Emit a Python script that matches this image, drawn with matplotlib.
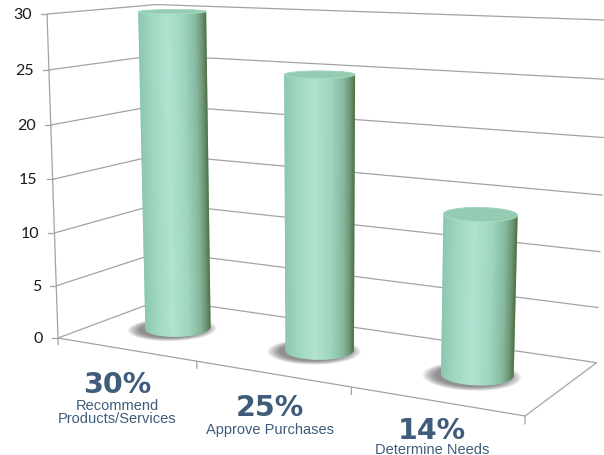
import numpy as np
import matplotlib
matplotlib.use("Agg")
import matplotlib.pyplot as plt
from matplotlib.patches import Polygon
from matplotlib.colors import LinearSegmentedColormap

# ---------------- data ----------------
categories = ["Recommend\nProducts/Services", "Approve Purchases", "Determine Needs"]
values = [30, 25, 14]
pct_labels = ["30%", "25%", "14%"]
y_ticks = [0, 5, 10, 15, 20, 25, 30]

# ---------------- camera / layout ----------------
FOCAL = 1540.0
PRINCIPAL = (322.0, 214.0)
YAW = np.radians(29.2)
PITCH = np.radians(-11.0)
TRANS = np.array([-24.6, 11.65, 143.5])
BOX_W = 46.5      # floor width (world units)
BOX_D = 16.8      # floor depth
CYL_R = 3.1       # cylinder radius
Z_MAX = max(y_ticks)
# label placement (pixel offsets from the projected front-edge centre)
LABEL_DX = [-8, -2, -4]
PCT_DY = [21, 19, 15]
NAME_DY = [49, 48, 41]

ct, st = np.cos(YAW), np.sin(YAW)
cp, sp = np.cos(PITCH), np.sin(PITCH)
BASE = np.array([[1, 0, 0], [0, 0, -1], [0, 1, 0]], float)
RYAW = np.array([[ct, 0, st], [0, 1, 0], [-st, 0, ct]])
RPITCH = np.array([[1, 0, 0], [0, cp, sp], [0, -sp, cp]])
M = RPITCH @ RYAW @ BASE


def proj(X, Y, Z):
    X, Y, Z = np.broadcast_arrays(np.asarray(X, float), np.asarray(Y, float), np.asarray(Z, float))
    P = np.stack([X.ravel(), Y.ravel(), Z.ravel()])
    c = M @ P + TRANS[:, None]
    u = PRINCIPAL[0] + FOCAL * c[0] / c[2]
    v = PRINCIPAL[1] + FOCAL * c[1] / c[2]
    return u.reshape(X.shape), v.reshape(X.shape)


def convex_hull(pts):
    pts = sorted(map(tuple, pts))
    def cross(o, a, b):
        return (a[0] - o[0]) * (b[1] - o[1]) - (a[1] - o[1]) * (b[0] - o[0])
    lower, upper = [], []
    for p in pts:
        while len(lower) >= 2 and cross(lower[-2], lower[-1], p) <= 0:
            lower.pop()
        lower.append(p)
    for p in reversed(pts):
        while len(upper) >= 2 and cross(upper[-2], upper[-1], p) <= 0:
            upper.pop()
        upper.append(p)
    return np.array(lower[:-1] + upper[:-1])


fig = plt.figure(figsize=(6.04, 4.56), dpi=100)
ax = fig.add_axes([0, 0, 1, 1])

GRID = "#a3a3a3"
GLW = 0.9


def seg(p0, p1, **kw):
    u, v = proj([p0[0], p1[0]], [p0[1], p1[1]], [p0[2], p1[2]])
    ax.plot(u, v, color=GRID, lw=GLW, solid_capstyle="butt", zorder=1, **kw)


# walls gridlines
for t in y_ticks:
    seg((0, 0, t), (0, BOX_D, t))
    seg((0, BOX_D, t), (BOX_W, BOX_D, t))
# floor edges
seg((0, 0, 0), (BOX_W, 0, 0))
seg((BOX_W, 0, 0), (BOX_W, BOX_D, 0))
# vertical axis
seg((0, 0, 0), (0, 0, Z_MAX))
# value ticks and labels
for t in y_ticks:
    u, v = proj(0, 0, t)
    ax.plot([u - 6, u], [v, v], color=GRID, lw=GLW, zorder=1)
    ax.text(u - 15, v, str(t), ha="right", va="center", fontsize=11.5,
            family="Lato", color="#1a1a1a")
# category ticks
n = len(values)
for k in range(n + 1):
    X = k * BOX_W / n
    seg((X, 0, 0), (X, 0, -0.7))

# ---------------- cylinders ----------------
body_cmap = LinearSegmentedColormap.from_list("cyl", [
    (0.00, "#8cc8ae"),
    (0.18, "#9fd7c0"),
    (0.42, "#b2e3d0"),
    (0.66, "#9fd6bf"),
    (0.84, "#86ba9f"),
    (0.94, "#6b9473"),
    (1.00, "#506f42"),
])


def line_x(y, pa, pb):
    t = (y - pa[1]) / (pb[1] - pa[1])
    return pa[0] + t * (pb[0] - pa[0])


ang = np.linspace(0, 2 * np.pi, 721)
for i, h in enumerate(values):
    xc = (i + 0.5) * BOX_W / n
    yc = BOX_D / 2
    # soft shadow on floor
    for k in range(14):
        f = 1.36 - 0.028 * k
        su, sv = proj(xc - 0.25 + CYL_R * f * np.cos(ang), yc - 0.6 + CYL_R * f * np.sin(ang), 0)
        ax.add_patch(Polygon(np.column_stack([su, sv]), closed=True, fc="#333333",
                             ec="none", alpha=0.05, zorder=2))
    xs = xc + CYL_R * np.cos(ang)
    ys = yc + CYL_R * np.sin(ang)
    ub, vb = proj(xs, ys, 0)
    ut, vt = proj(xs, ys, h)
    hull = convex_hull(np.vstack([np.column_stack([ub, vb]), np.column_stack([ut, vt])]))
    sil = Polygon(hull, closed=True, fc="#9fd6bf", ec="none", zorder=2.9)
    ax.add_patch(sil)
    # smooth horizontal gradient across the body, clipped to the silhouette
    x0, x1 = np.floor(hull[:, 0].min()) - 1, np.ceil(hull[:, 0].max()) + 1
    y0, y1 = np.floor(hull[:, 1].min()) - 1, np.ceil(hull[:, 1].max()) + 1
    step = 0.5
    gx = np.arange(x0, x1, step) + step / 2
    gy = np.arange(y0, y1, step) + step / 2
    GX, GY = np.meshgrid(gx, gy)
    lb, lt = ub.argmin(), ut.argmin()
    rb, rt = ub.argmax(), ut.argmax()
    xl = line_x(GY, (ub[lb], vb[lb]), (ut[lt], vt[lt]))
    xr = line_x(GY, (ub[rb], vb[rb]), (ut[rt], vt[rt]))
    S = np.clip((GX - xl) / (xr - xl), 0, 1)
    img = body_cmap(S)
    im = ax.imshow(img, extent=(x0, x0 + step * len(gx), y0 + step * len(gy), y0),
                   origin="upper", interpolation="bilinear", aspect="auto", zorder=3)
    im.set_clip_path(sil)
    ax.add_patch(Polygon(np.column_stack([ut, vt]), closed=True, fc="#94cbb3",
                         ec="#a6d9c3", lw=0.7, zorder=4))

# ---------------- category labels ----------------
LABEL_COL = "#3f5c7a"
for i, (pct, name) in enumerate(zip(pct_labels, categories)):
    xc = (i + 0.5) * BOX_W / n
    u, v = proj(xc, 0, 0)
    ax.text(u + LABEL_DX[i], v + PCT_DY[i], pct, ha="center", va="top", fontsize=20.5,
            fontweight="bold", family="DejaVu Sans", color=LABEL_COL)
    ax.text(u + LABEL_DX[i], v + NAME_DY[i], name, ha="center", va="top", fontsize=10.5,
            family="Liberation Sans", color=LABEL_COL, linespacing=0.92)

ax.set_xlim(0, 604)
ax.set_ylim(456, 0)
ax.axis("off")
fig.savefig("out.png", dpi=100)
